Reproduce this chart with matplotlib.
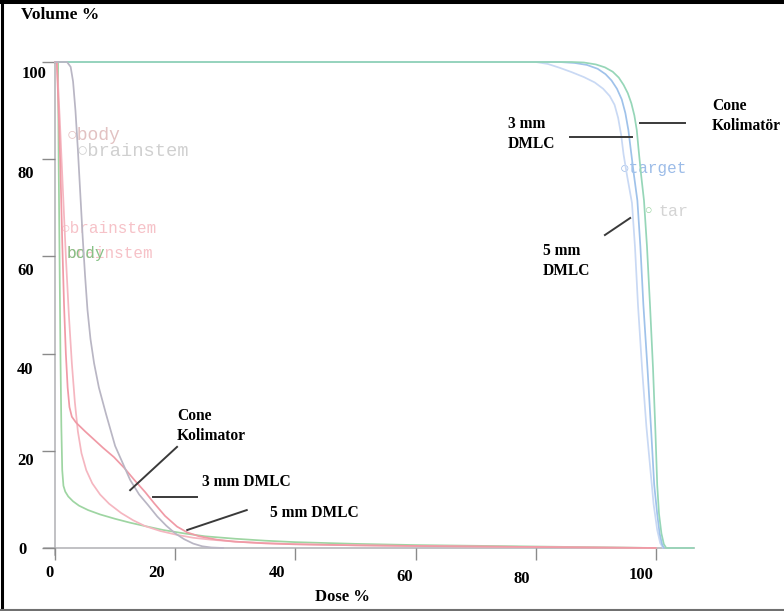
import matplotlib
matplotlib.use("Agg")
import matplotlib.pyplot as plt
from matplotlib.lines import Line2D

# ---- Dose-volume histogram data (dose %, volume %) ----
# target volume
target_cone_dose = [0, 86, 88, 90, 91.5, 92.8, 93.8, 94.6, 95.3, 95.9, 96.4, 96.8, 97.1,
                    97.5, 98.0, 98.5, 99.0, 99.5, 99.9, 100.2, 100.5, 100.9, 101.3, 101.7, 106.3]
target_cone_vol = [100, 100, 99.9, 99.5, 98.9, 98.0, 96.8, 95.3, 93.6, 91.5, 89, 86, 82,
                   77, 71.5, 62, 50, 37, 24, 13, 7, 3, 0.8, 0, 0]

target_3mm_dose = [0, 84, 86.5, 88.5, 90.3, 91.6, 92.6, 93.5, 94.3, 94.9, 95.4, 95.8, 96.3,
                   96.9, 97.4, 97.9, 98.6, 99.2, 99.7, 100.2, 100.6, 101.0, 101.3]
target_3mm_vol = [100, 100, 99.8, 99.4, 98.6, 97.5, 96.2, 94.5, 92.3, 89.5, 86, 82, 77,
                  71.5, 62, 50, 36.6, 24, 13, 7, 3, 0.8, 0]

target_5mm_dose = [0, 80, 82, 84, 86, 88, 89.8, 91.2, 92.3, 93.1, 93.7, 94.2, 94.6, 95.2,
                   96.0, 96.5, 97.0, 97.7, 98.4, 99.0, 99.6, 100.2, 100.7, 101.2]
target_5mm_vol = [100, 100, 99.6, 98.8, 97.9, 96.9, 95.8, 94.5, 93.0, 91.2, 88.5, 85, 81,
                  76.5, 71, 62, 50, 36.6, 25, 17, 9, 3.7, 1, 0]

# brainstem / body
oar_cone_dose = [0, 2.0, 2.6, 3.0, 3.4, 3.8, 4.2, 4.6, 5.0, 5.4, 5.9, 6.5, 7.3, 8.5, 10,
                 12.5, 14, 15.5, 17, 18.5, 20, 21.5, 23, 24.5, 26, 28]
oar_cone_vol = [100, 100, 99, 96, 90, 82, 73, 64, 56, 49, 43, 38, 33, 27.5, 21,
                14, 11, 8.8, 6.5, 4.6, 3.0, 1.8, 0.9, 0.35, 0.1, 0]

oar_3mm_dose = [0, 0.3, 0.6, 0.9, 1.2, 1.5, 1.8, 2.1, 2.4, 2.8, 3.5, 5, 6.5, 8, 9.8,
                11.5, 13.2, 15, 16.5, 18.3, 20.3, 22, 24, 27, 30, 35, 40, 50, 60, 80, 100]
oar_3mm_vol = [100, 100, 90, 78, 63, 50, 40, 33, 29, 27, 25.8, 24, 22.3, 20.6, 18.7,
               16.5, 14, 11.5, 9.2, 6.6, 4.4, 3.2, 2.4, 1.7, 1.3, 0.95, 0.75, 0.55, 0.42, 0.2, 0]

oar_5mm_dose = [0, 0.3, 0.8, 1.3, 1.8, 2.3, 2.8, 3.3, 3.8, 4.4, 5.2, 6.2, 7.5, 9, 11, 13,
                15, 17.5, 20.3, 23, 26, 30, 35, 40, 50, 60, 80, 100]
oar_5mm_vol = [100, 100, 88, 74, 60, 48, 38, 30, 24, 19.5, 16, 13.3, 11, 9.1, 7.2, 5.7,
               4.5, 3.5, 2.7, 2.1, 1.7, 1.3, 1.0, 0.8, 0.55, 0.4, 0.2, 0]

oar_body_dose = [0, 0.5, 0.6, 0.75, 0.9, 1.05, 1.2, 1.4, 1.7, 2.2, 3, 4, 5.5, 7.5, 10,
                 12.5, 15, 18, 21.5, 25, 30, 35, 40, 50, 60, 80, 100]
oar_body_vol = [100, 100, 80, 60, 40, 25, 16, 12.8, 11.6, 10.6, 9.6, 8.7, 7.8, 6.9, 6.0,
                5.2, 4.5, 3.7, 3.0, 2.4, 1.9, 1.5, 1.2, 0.85, 0.6, 0.3, 0]

x_ticks = [0, 20, 40, 60, 80, 100]
x_tick_labels = ["0", "20", "40", "60", "80", "100"]
y_ticks = [0, 20, 40, 60, 80, 100]
y_tick_labels = ["0", "20", "40", "60", "80", "100"]

# pixel offsets of the hand-placed tick labels relative to their ticks
x_label_shift = [(-6, -25), (-19, -25), (-18, -25), (-11, -29), (-14, -31), (-15, -27)]
y_label_shift = [(-37, -2), (-38, -10), (-38, -16), (-38, -15), (-38, -15), (-33, -12)]

curves = [
    (target_5mm_dose, target_5mm_vol, "#c9d9f4"),
    (target_3mm_dose, target_3mm_vol, "#9fc2ea"),
    (target_cone_dose, target_cone_vol, "#96d6b8"),
    (oar_body_dose, oar_body_vol, "#9ed5a2"),
    (oar_5mm_dose, oar_5mm_vol, "#f5b6c0"),
    (oar_3mm_dose, oar_3mm_vol, "#f09aa6"),
    (oar_cone_dose, oar_cone_vol, "#b9b6c4"),
]

serif = "Liberation Serif"

fig = plt.figure(figsize=(7.84, 6.11), dpi=100)
ax = fig.add_axes([40 / 784, 41 / 611, 660 / 784, 530 / 611])
ax.set_xlim(-2.5, 107.32)
ax.set_ylim(-4.53, 104.53)

for d, v, c in curves:
    ax.plot(d, v, color=c, lw=1.25, solid_capstyle="round", solid_joinstyle="round")

# axes drawn through the origin
for side in ("top", "right"):
    ax.spines[side].set_visible(False)
ax.spines["bottom"].set_position(("data", 0))
ax.spines["left"].set_position(("data", 0))
ax.spines["bottom"].set_bounds(-1.8, 106.3)
ax.spines["left"].set_bounds(-1.5, 100)
for side in ("bottom", "left"):
    ax.spines[side].set_color("#b0b0b4")
    ax.spines[side].set_linewidth(1.1)
    ax.spines[side].set_zorder(0.5)

ax.set_xticks(x_ticks)
ax.set_yticks(y_ticks)
ax.tick_params(axis="x", direction="out", length=8.5, width=1.0, color="#8a8a8a",
               labelbottom=False)
ax.tick_params(axis="y", direction="out", length=9.5, width=1.0, color="#8a8a8a",
               labelleft=False)

for v, lab, (dx, dy) in zip(x_ticks, x_tick_labels, x_label_shift):
    ax.annotate(lab, xy=(v, 0), xytext=(dx, dy), textcoords="offset pixels",
                ha="center", va="center", fontsize=12, fontweight="bold",
                family=serif, annotation_clip=False)
for v, lab, (dx, dy) in zip(y_ticks, y_tick_labels, y_label_shift):
    ax.annotate(lab, xy=(0, v), xytext=(dx, dy), textcoords="offset pixels",
                ha="left", va="center", fontsize=12, fontweight="bold",
                family=serif, annotation_clip=False)

fig.text(21 / 784, 1 - 15 / 611, "Volume %", ha="left", va="center",
         fontsize=12.5, fontweight="bold", family=serif)
ax.text(47.8, -10.1, "Dose %", ha="center", va="center", fontsize=12,
        fontweight="bold", family=serif, clip_on=False)

# faint structure labels from the planning system
mono = "Liberation Mono"
faint = [
    (1.9, 84.8, "\u25cbbody", "#e2c2c2", 13),
    (3.6, 81.6, "\u25cbbrainstem", "#d0d0d0", 13.5),
    (1.0, 65.8, "\u25cbbrainstem", "#f6c2c8", 11.5),
    (2.0, 60.7, "brainstem", "#f6c2c8", 11.5),
    (2.0, 60.7, "body", "#86c286", 11.5),
    (93.9, 78.0, "\u25cbtarget", "#9cbce8", 11.5),
    (98.2, 69.3, "\u25cb", "#98d4a0", 9),
    (100.4, 69.3, "tar", "#d4d4d4", 12),
]
for x, y, s, c, fs in faint:
    ax.text(x, y, s, color=c, fontsize=fs, family=mono, ha="left", va="center",
            zorder=1)

# callouts
callout_lines = [
    ((12.5, 20.3), (11.9, 20.8)),
    ((16.3, 23.6), (10.5, 10.5)),
    ((22.0, 31.9), (3.7, 7.8)),
    ((97.3, 104.8), (87.4, 87.4)),
    ((85.7, 96.0), (84.6, 84.6)),
    ((91.5, 95.7), (64.4, 67.9)),
]
for xs, ys in callout_lines:
    ax.plot(xs, ys, color="#3a3a3a", lw=1.4, clip_on=False, zorder=4)

callout_text = [
    (20.3, 28.8, "Cone\nKolimator"),
    (24.5, 13.6, "3 mm DMLC"),
    (35.8, 7.2, "5 mm DMLC"),
    (109.3, 92.6, "Cone\nKolimatör"),
    (75.4, 88.9, "3 mm\nDMLC"),
    (81.2, 62.7, "5 mm\nDMLC"),
]
for x, y, s in callout_text:
    va = "center" if "\n" not in s else "top"
    ax.text(x, y, s, ha="left", va=va, fontsize=11.2, fontweight="bold",
            family=serif, linespacing=1.3, clip_on=False, zorder=4)

# picture frame
fig.add_artist(Line2D([1.5 / 784, 1.5 / 784], [0, 1], transform=fig.transFigure,
                      color="black", lw=2.2))
fig.add_artist(Line2D([0, 1], [1 - 2 / 611, 1 - 2 / 611], transform=fig.transFigure,
                      color="black", lw=2.9))
fig.add_artist(Line2D([0, 1], [1.5 / 611, 1.5 / 611], transform=fig.transFigure,
                      color="#707070", lw=1.5))

fig.savefig("out.png", dpi=100)
